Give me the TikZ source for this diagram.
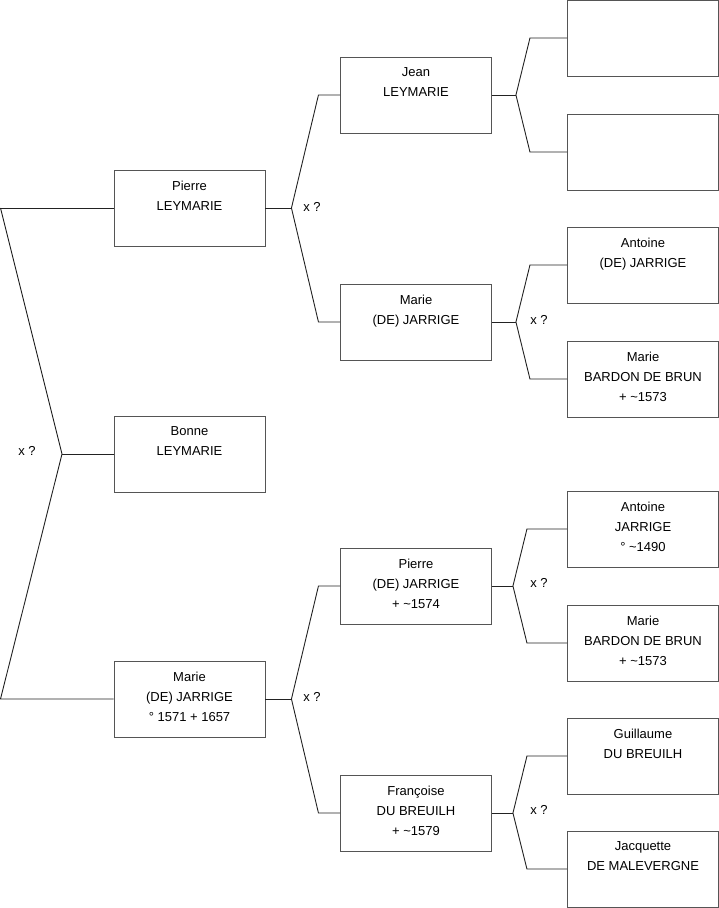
\documentclass[tikz,border=0pt]{standalone}
\usepackage{fontspec}
\setmainfont{Liberation Sans}
\definecolor{boxc}{HTML}{555555}
\definecolor{linec}{HTML}{222222}
\newcommand{\famlink}[5]{%
  \coordinate (#1s) at ([xshift=#4]#1.east);
  \coordinate (#2k) at ([xshift=#5]#1s |- #2.west);
  \coordinate (#3k) at ([xshift=#5]#1s |- #3.west);
  \draw[con] (#1.east) -- (#1s);
  \draw[con] (#2.west) -- (#2k) -- (#1s) -- (#3k) -- (#3.west);
}
\begin{document}
\begin{tikzpicture}[x=1pt,y=-1pt,
  box/.style={draw=boxc,line width=0.9pt,fill=white,minimum width=151pt,minimum height=76pt,inner sep=0pt},
  txt/.style={anchor=north,align=center,inner sep=0pt,font=\fontsize{13}{20}\selectfont},
  con/.style={draw=linec,line width=0.9pt},
  xq/.style={inner sep=0pt,font=\fontsize{13}{15}\selectfont}]
\useasboundingbox (0,0) rectangle (719,908);
% column 1
\node[box] (p) at (189.5,208) {};
\node[box] (b) at (189.5,454) {};
\node[box] (m) at (189.5,699) {};
% column 2
\node[box] (j) at (416,95) {};
\node[box] (mj) at (416,322) {};
\node[box] (pj) at (416,586) {};
\node[box] (f) at (416,813) {};
% column 3
\node[box] (e1) at (643,38) {};
\node[box] (e2) at (643,152) {};
\node[box] (a1) at (643,265) {};
\node[box] (mb1) at (643,379) {};
\node[box] (a2) at (643,529) {};
\node[box] (mb2) at (643,643) {};
\node[box] (g) at (643,756) {};
\node[box] (jm) at (643,869) {};
% texts
\node[txt] (tp) at ([yshift=-11pt]p.north) {Pierre\\LEYMARIE};
\node[txt] (tb) at ([yshift=-11pt]b.north) {Bonne\\LEYMARIE};
\node[txt] (tm) at ([yshift=-11pt]m.north) {Marie\\(DE) JARRIGE\\° 1571 + 1657};
\node[txt] (tj) at ([yshift=-11pt]j.north) {Jean\\LEYMARIE};
\node[txt] (tmj) at ([yshift=-11pt]mj.north) {Marie\\(DE) JARRIGE};
\node[txt] (tpj) at ([yshift=-11pt]pj.north) {Pierre\\(DE) JARRIGE\\+ \textasciitilde1574};
\node[txt] (tf) at ([yshift=-11pt]f.north) {Françoise\\DU BREUILH\\+ \textasciitilde1579};
\node[txt] (ta1) at ([yshift=-11pt]a1.north) {Antoine\\(DE) JARRIGE};
\node[txt] (tmb1) at ([yshift=-11pt]mb1.north) {Marie\\BARDON DE BRUN\\+ \textasciitilde1573};
\node[txt] (ta2) at ([yshift=-11pt]a2.north) {Antoine\\JARRIGE\\° \textasciitilde1490};
\node[txt] (tmb2) at ([yshift=-11pt]mb2.north) {Marie\\BARDON DE BRUN\\+ \textasciitilde1573};
\node[txt] (tg) at ([yshift=-11pt]g.north) {Guillaume\\DU BREUILH};
\node[txt] (tjm) at ([yshift=-11pt]jm.north) {Jacquette\\DE MALEVERGNE};
% root connectors
\coordinate (r0) at (0.5,208);
\coordinate (r1) at (62,454);
\coordinate (r2) at (0.5,699);
\draw[con] (r0) -- (p.west);
\draw[con] (r0) -- (r1) -- (r2) -- (m.west);
\draw[con] (r1) -- (b.west);
\node[xq] (x0) at (27,451) {x ?};
% family connectors
\famlink{p}{j}{mj}{26pt}{27pt}
\famlink{m}{pj}{f}{26pt}{27pt}
\famlink{j}{e1}{e2}{24pt}{14pt}
\famlink{mj}{a1}{mb1}{24pt}{14pt}
\famlink{pj}{a2}{mb2}{21pt}{14pt}
\famlink{f}{g}{jm}{21pt}{14pt}
\node[xq] (x1) at (312,207) {x ?};
\node[xq] (x2) at (312,697) {x ?};
\node[xq] (x3) at (539,320) {x ?};
\node[xq] (x4) at (539,583) {x ?};
\node[xq] (x5) at (539,810) {x ?};
\end{tikzpicture}
\end{document}
